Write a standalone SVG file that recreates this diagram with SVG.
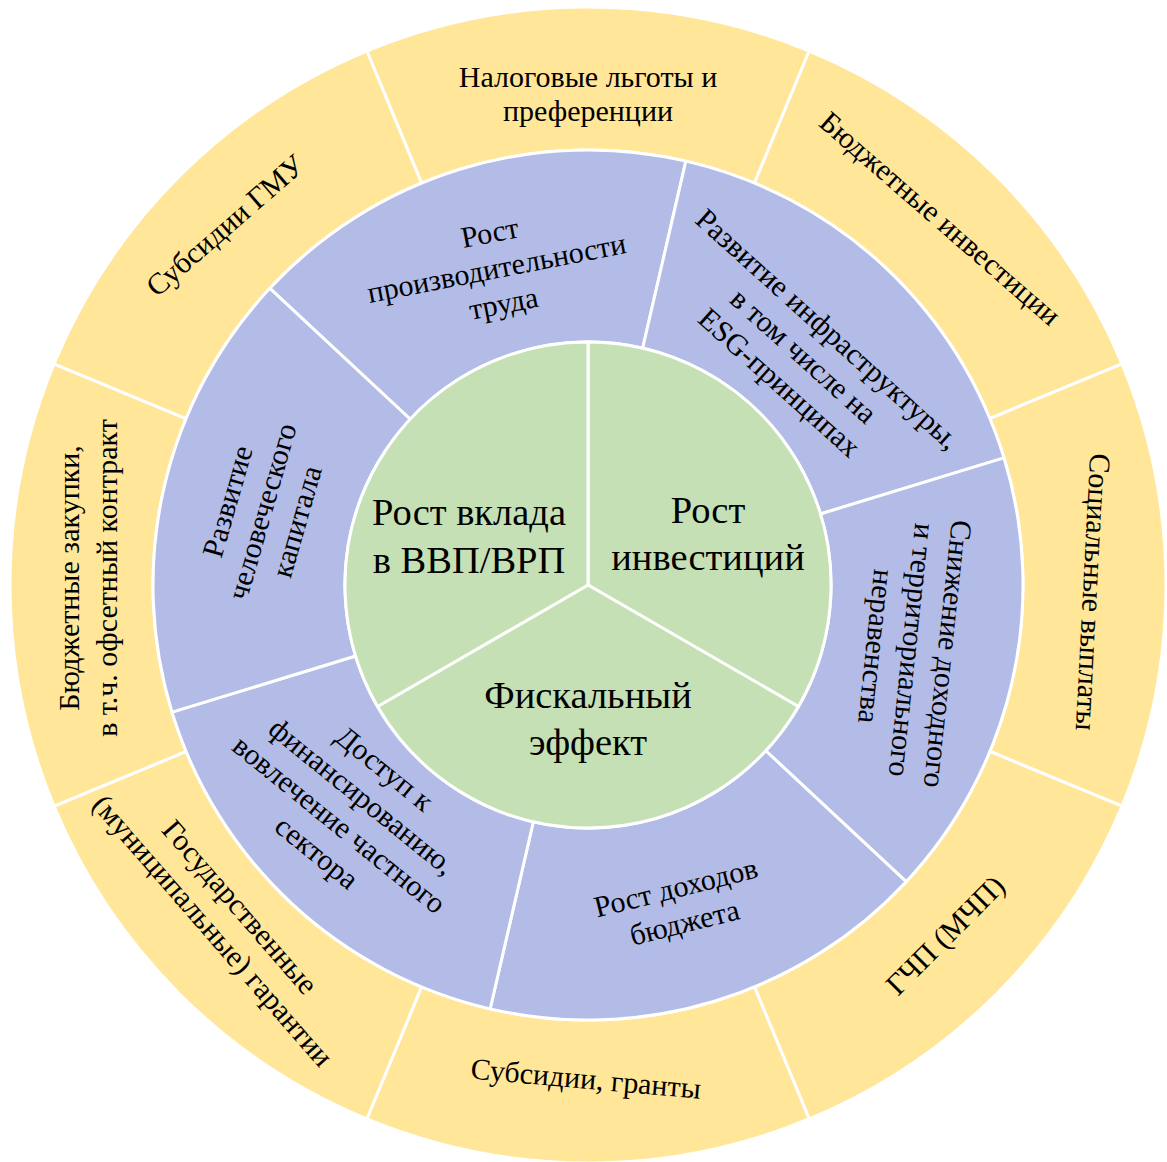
<svg xmlns="http://www.w3.org/2000/svg" width="1167" height="1162" viewBox="0 0 1167 1162">
<style>
.s{stroke:#FFFFFF;stroke-width:3;stroke-linejoin:round}
.g{fill:#C5E0B4}
.b{fill:#B2BCE6}
.y{fill:#FFE699}
text{font-family:"Liberation Serif","Times New Roman",serif;fill:#000;text-anchor:middle}
.tc{font-size:38.5px}
.tm{font-size:30px}
.to{font-size:30px}
</style>
<rect width="1167" height="1162" fill="#FFFFFF"/>
<g id="outer-ring">
<g id="o-nalog"><path class="s y" d="M366.81,51 A578,578 0 0 1 809.19,51 L754.47,183.11 A435,435 0 0 0 421.53,183.11 Z"/>
<text class="to"><tspan x="588" y="87">Налоговые льготы и</tspan><tspan x="588" y="121">преференции</tspan></text></g>
<g id="o-budinv"><path class="s y" d="M809.19,51 A578,578 0 0 1 1122,363.81 L989.89,418.53 A435,435 0 0 0 754.47,183.11 Z"/>
<text class="to" transform="translate(939,220) rotate(41)"><tspan x="0" y="8">Бюджетные инвестиции</tspan></text></g>
<g id="o-social"><path class="s y" d="M1122,363.81 A578,578 0 0 1 1122,806.19 L989.89,751.47 A435,435 0 0 0 989.89,418.53 Z"/>
<text class="to" transform="translate(1091,592) rotate(93)"><tspan x="0" y="8">Социальные выплаты</tspan></text></g>
<g id="o-gchp"><path class="s y" d="M1122,806.19 A578,578 0 0 1 809.19,1119 L754.47,986.89 A435,435 0 0 0 989.89,751.47 Z"/>
<text class="to" transform="translate(946.7,936.7) rotate(-45)"><tspan x="0" y="8">ГЧП (МЧП)</tspan></text></g>
<g id="o-subgrant"><path class="s y" d="M809.19,1119 A578,578 0 0 1 366.81,1119 L421.53,986.89 A435,435 0 0 0 754.47,986.89 Z"/>
<text class="to" transform="translate(585.7,1080.7) rotate(5)"><tspan x="0" y="8">Субсидии, гранты</tspan></text></g>
<g id="o-guarant"><path class="s y" d="M366.81,1119 A578,578 0 0 1 54,806.19 L186.11,751.47 A435,435 0 0 0 421.53,986.89 Z"/>
<text class="to" transform="translate(225,920) rotate(49)"><tspan x="0" y="-10">Государственные</tspan><tspan x="0" y="26">(муниципальные) гарантии</tspan></text></g>
<g id="o-zakup"><path class="s y" d="M54,806.19 A578,578 0 0 1 54,363.81 L186.11,418.53 A435,435 0 0 0 186.11,751.47 Z"/>
<text class="to" transform="translate(90,578) rotate(-90)"><tspan x="0" y="-11">Бюджетные закупки,</tspan><tspan x="0" y="27">в т.ч. офсетный контракт</tspan></text></g>
<g id="o-gmu"><path class="s y" d="M54,363.81 A578,578 0 0 1 366.81,51 L421.53,183.11 A435,435 0 0 0 186.11,418.53 Z"/>
<text class="to" transform="translate(226.5,227) rotate(-41)"><tspan x="0" y="8">Субсидии ГМУ</tspan></text></g>
</g>
<g id="middle-ring">
<g id="m-proizv"><path class="s b" d="M269.86,288.33 A435,435 0 0 1 685.85,161.15 L642.66,348.23 A243,243 0 0 0 410.28,419.27 Z"/>
<text class="tm" transform="translate(497,270) rotate(-11)"><tspan x="0" y="-28">Рост</tspan><tspan x="0" y="8">производительности</tspan><tspan x="0" y="44">труда</tspan></text></g>
<g id="m-infra"><path class="s b" d="M685.85,161.15 A435,435 0 0 1 1003.99,457.82 L820.38,513.95 A243,243 0 0 0 642.66,348.23 Z"/>
<text class="tm" transform="translate(802.3,357.3) rotate(42)"><tspan x="0" y="-28">Развитие инфраструктуры,</tspan><tspan x="0" y="8">в том числе на</tspan><tspan x="0" y="44">ESG-принципах</tspan></text></g>
<g id="m-nerav"><path class="s b" d="M1003.99,457.82 A435,435 0 0 1 906.14,881.67 L765.72,750.73 A243,243 0 0 0 820.38,513.95 Z"/>
<text class="tm" transform="translate(910,650) rotate(96)"><tspan x="0" y="-28">Снижение доходного</tspan><tspan x="0" y="8">и территориального</tspan><tspan x="0" y="44">неравенства</tspan></text></g>
<g id="m-dohod"><path class="s b" d="M906.14,881.67 A435,435 0 0 1 490.15,1008.85 L533.34,821.77 A243,243 0 0 0 765.72,750.73 Z"/>
<text class="tm" transform="translate(680.7,907) rotate(-14)"><tspan x="0" y="-10">Рост доходов</tspan><tspan x="0" y="26">бюджета</tspan></text></g>
<g id="m-dostup"><path class="s b" d="M490.15,1008.85 A435,435 0 0 1 172.01,712.18 L355.62,656.05 A243,243 0 0 0 533.34,821.77 Z"/>
<text class="tm" transform="translate(349.5,812) rotate(39)"><tspan x="0" y="-46">Доступ к</tspan><tspan x="0" y="-10">финансированию,</tspan><tspan x="0" y="26">вовлечение частного</tspan><tspan x="0" y="62">сектора</tspan></text></g>
<g id="m-human"><path class="s b" d="M172.01,712.18 A435,435 0 0 1 269.86,288.33 L410.28,419.27 A243,243 0 0 0 355.62,656.05 Z"/>
<text class="tm" transform="translate(264,512) rotate(-74)"><tspan x="0" y="-28">Развитие</tspan><tspan x="0" y="8">человеческого</tspan><tspan x="0" y="44">капитала</tspan></text></g>
</g>
<g id="inner">
<g id="c-invest"><path class="s g" d="M588,585 L588,342 A243,243 0 0 1 798.44,706.5 Z"/>
<text class="tc"><tspan x="708" y="523">Рост</tspan><tspan x="708" y="570">инвестиций</tspan></text></g>
<g id="c-fiscal"><path class="s g" d="M588,585 L798.44,706.5 A243,243 0 0 1 377.56,706.5 Z"/>
<text class="tc"><tspan x="588" y="708">Фискальный</tspan><tspan x="588" y="755">эффект</tspan></text></g>
<g id="c-vvp"><path class="s g" d="M588,585 L377.56,706.5 A243,243 0 0 1 588,342 Z"/>
<text class="tc"><tspan x="469" y="525">Рост вклада</tspan><tspan x="469" y="573">в ВВП/ВРП</tspan></text></g>
</g>
</svg>
